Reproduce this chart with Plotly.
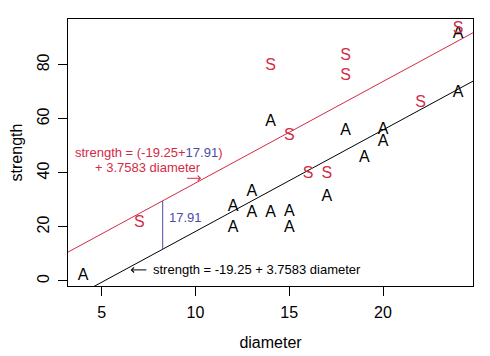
import plotly.graph_objects as go

# ---- data ----
a_diameter = [4, 12, 12, 13, 13, 14, 14, 15, 15, 17, 18, 19, 20, 20, 24, 24]
a_strength = [1.8, 27.5, 19.5, 33, 25, 25, 59, 25.5, 19.5, 31, 55.5, 45.5, 55.7, 51.6, 69.5, 91.4]
s_diameter = [7, 14, 15, 16, 17, 18, 18, 22, 24]
s_strength = [21.6, 79.4, 53.8, 39.6, 39.6, 83.3, 75.7, 65.8, 93.3]

intercept_a = -19.25
shift_s = 17.91
slope = 3.7583
gap_x = 8.25
x_ticks = [5, 10, 15, 20]
y_ticks = [0, 20, 40, 60, 80]

RED = "#D42A46"
BLUE = "#4B4BAA"
FONT = "Liberation Sans, Arial, sans-serif"

all_x = a_diameter + s_diameter
all_y = a_strength + s_strength
xpad = 0.04 * (max(all_x) - min(all_x))
ypad = 0.04 * (max(all_y) - min(all_y))
xr = [min(all_x) - xpad, max(all_x) + xpad]
yr = [min(all_y) - ypad, max(all_y) + ypad]

def line_y(b0, xs):
    return [b0 + slope * x for x in xs]

fig = go.Figure()
# regression lines
fig.add_trace(go.Scatter(x=xr, y=line_y(intercept_a + shift_s, xr), mode="lines",
                         line=dict(color=RED, width=1), showlegend=False, hoverinfo="skip"))
fig.add_trace(go.Scatter(x=xr, y=line_y(intercept_a, xr), mode="lines",
                         line=dict(color="black", width=1), showlegend=False, hoverinfo="skip"))
# vertical gap segment
fig.add_trace(go.Scatter(x=[gap_x, gap_x],
                         y=[intercept_a + slope * gap_x, intercept_a + shift_s + slope * gap_x],
                         mode="lines", line=dict(color=BLUE, width=1), showlegend=False,
                         hoverinfo="skip"))
# points as letters
fig.add_trace(go.Scatter(x=a_diameter, y=a_strength, mode="text", text=["A"] * len(a_diameter),
                         textposition="middle center",
                         textfont=dict(family=FONT, size=16, color="black"), showlegend=False))
fig.add_trace(go.Scatter(x=s_diameter, y=s_strength, mode="text", text=["S"] * len(s_diameter),
                         textposition="middle center",
                         textfont=dict(family=FONT, size=16, color=RED), showlegend=False))

ann_font = dict(family=FONT, size=13)
annotations = [
    dict(x=gap_x + 0.25, y=23.4, text=f"{shift_s:.2f}", showarrow=False, xanchor="left",
         yanchor="middle", font=dict(ann_font, color=BLUE)),
    dict(x=7.61, y=4.1, text=f"strength = {intercept_a} + {slope} diameter", showarrow=False,
         xanchor="left", yanchor="middle", font=dict(ann_font, color="black")),
    dict(x=6.54, y=4.1, ax=7.46, ay=4.1, axref="x", ayref="y", text="", showarrow=True,
         arrowhead=4, arrowsize=1, arrowwidth=1, arrowcolor="black"),
    dict(x=7.47, y=47.5,
         text=f"strength = ({intercept_a}+<span style='color:{BLUE}'>{shift_s:.2f}</span>)",
         showarrow=False, xanchor="center", yanchor="middle", font=dict(ann_font, color=RED)),
    dict(x=7.47, y=42.0, text=f"+ {slope} diameter", showarrow=False, xanchor="center",
         yanchor="middle", font=dict(ann_font, color=RED)),
    dict(x=10.30, y=38.0, ax=9.47, ay=38.0, axref="x", ayref="y", text="", showarrow=True,
         arrowhead=4, arrowsize=1, arrowwidth=1, arrowcolor=RED),
]

axis_common = dict(showline=True, linecolor="black", linewidth=1, mirror=True,
                   showgrid=False, zeroline=False, ticks="outside", ticklen=9, tickwidth=1,
                   tickcolor="black", tickfont=dict(family=FONT, size=16, color="black"),
                   title_font=dict(family=FONT, size=16, color="black"),
                   ticklabelstandoff=3, automargin=False)

# page body adds an 8px offset, so the figure is 8px smaller and margins shifted
fig.update_layout(
    width=482, height=348,
    margin=dict(l=60, r=17, t=11, b=70),
    paper_bgcolor="white", plot_bgcolor="white",
    xaxis=dict(axis_common, range=xr, tickvals=x_ticks, title=dict(text="diameter", standoff=16)),
    yaxis=dict(axis_common, range=yr, tickvals=y_ticks, tickangle=-90,
               title=dict(text="strength", standoff=8)),
    annotations=annotations,
    font=dict(family=FONT),
)

fig.write_html("out.html")
